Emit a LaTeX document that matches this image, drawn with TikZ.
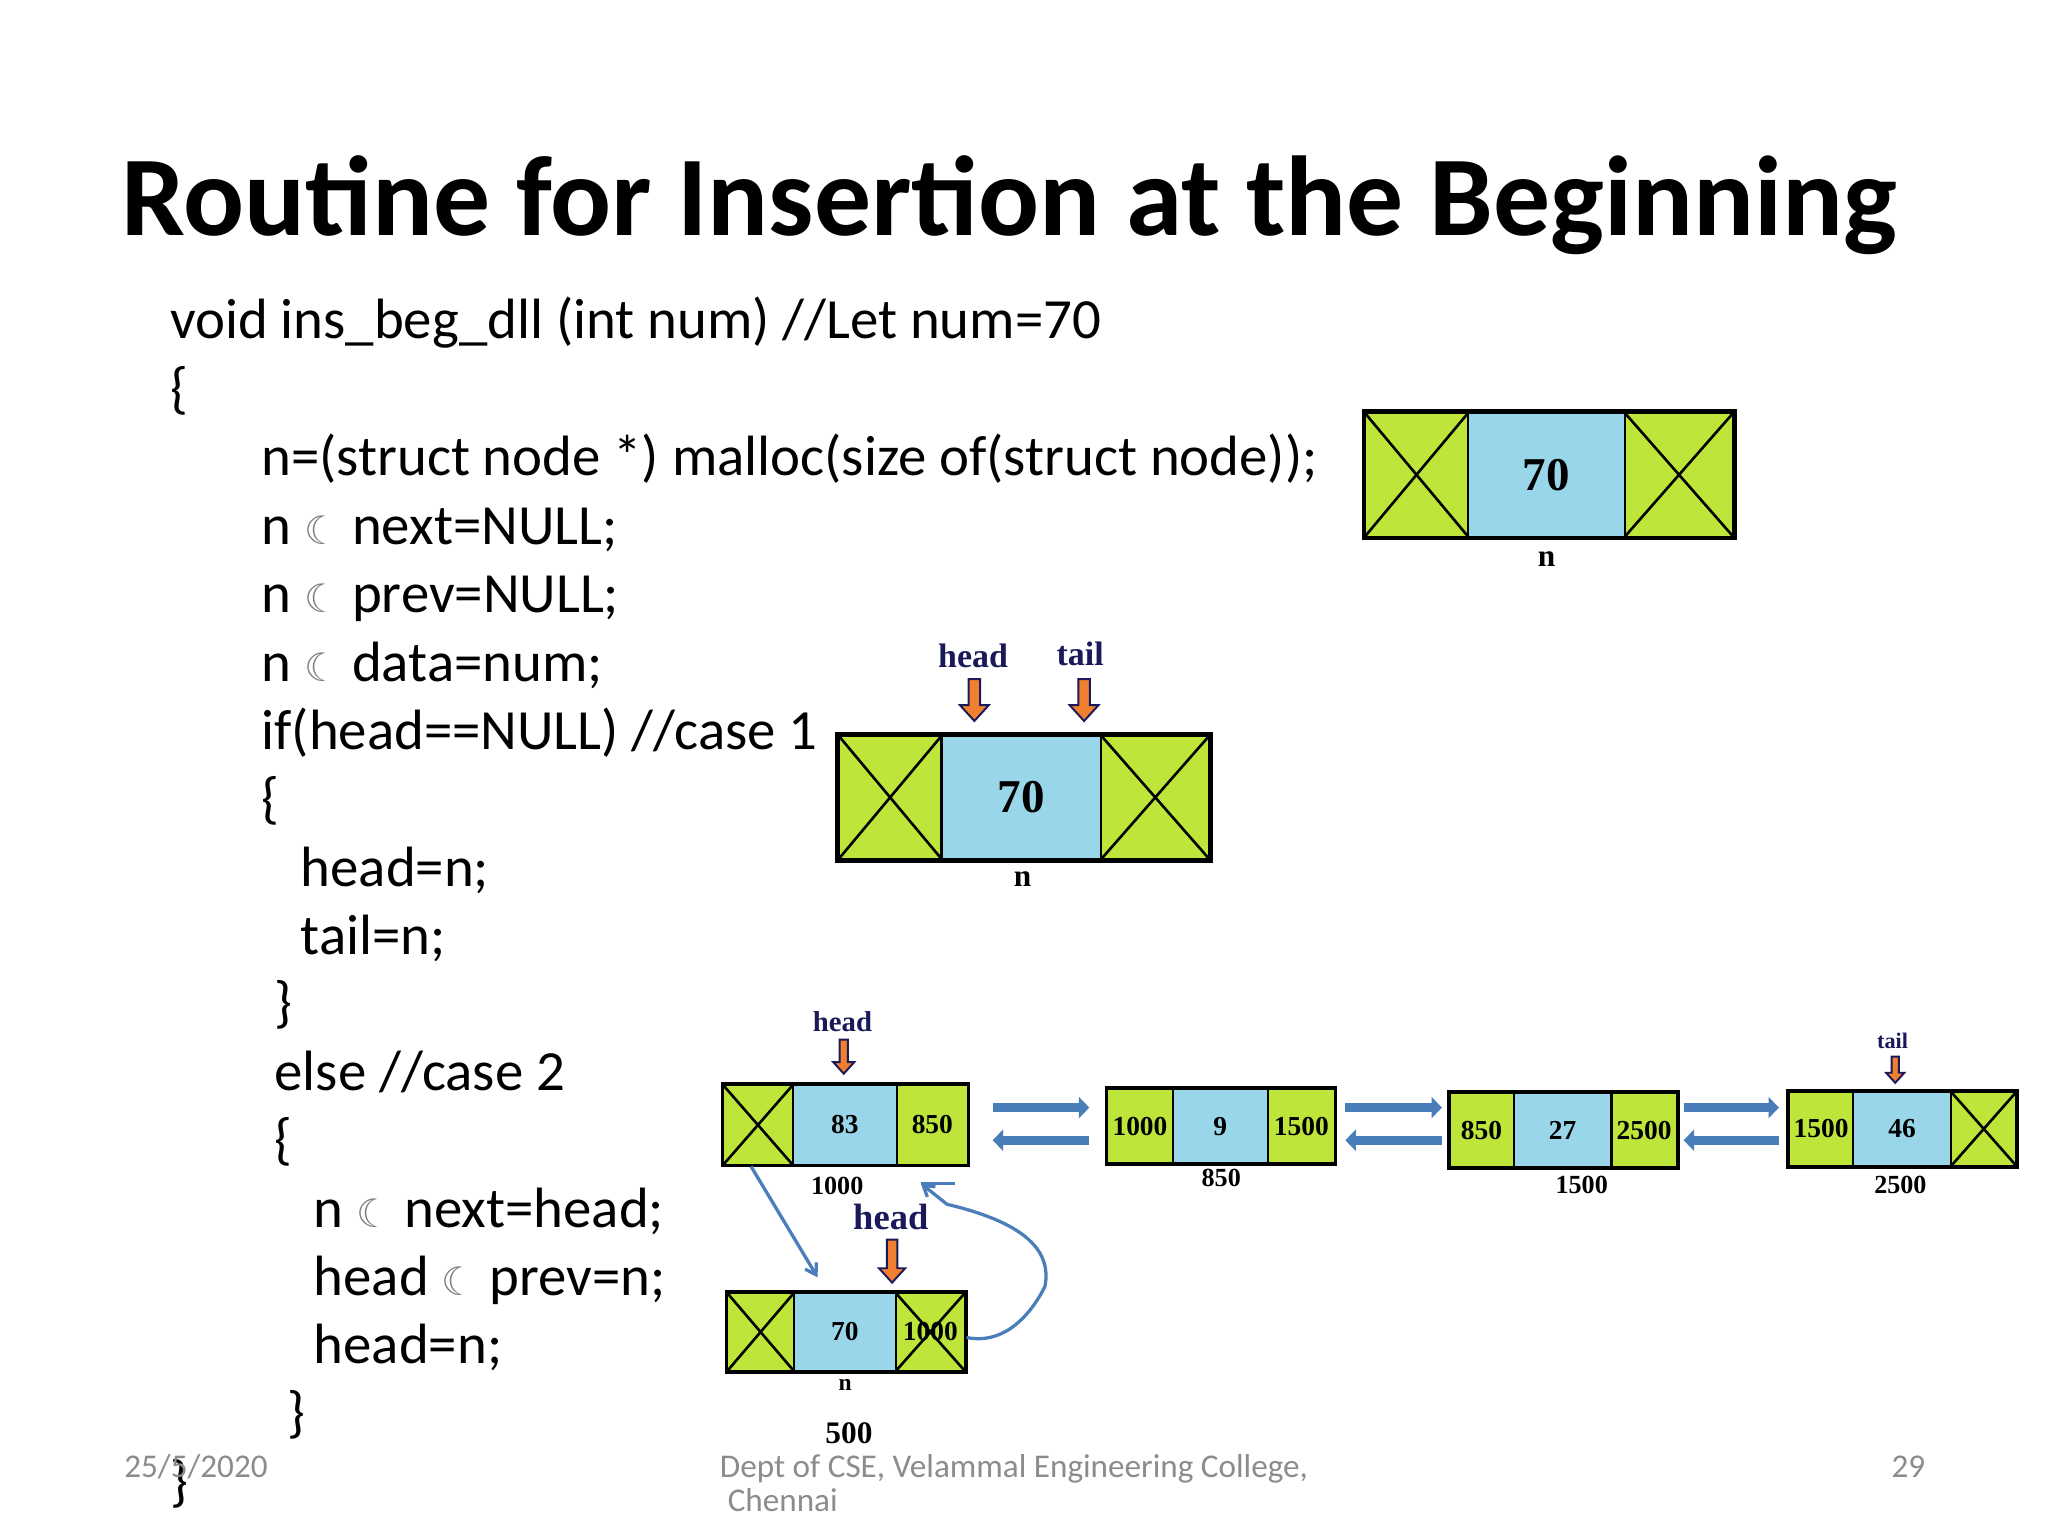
\documentclass[tikz,border=0pt]{standalone}
\usepackage{fontspec}
\setmainfont{Carlito}
\newfontfamily\tms{Liberation Serif}
\newfontfamily\djv{DejaVu Sans}
\usetikzlibrary{arrows.meta}
\definecolor{cg}{HTML}{BDE53A}
\definecolor{cb}{HTML}{9AD6EA}
\definecolor{ab}{HTML}{4A7EBB}
\definecolor{nv}{HTML}{1A1A5A}
\definecolor{og}{HTML}{F08030}
\definecolor{ft}{HTML}{8C8C8C}
\tikzset{
 code/.style={anchor=base west,inner sep=0,font=\fontsize{43.5}{48}\selectfont},
 bigc/.style={draw=black,line width=2pt,inner sep=0,anchor=north west,font=\tms\bfseries\fontsize{36}{40}\selectfont},
 smc/.style={draw=black,line width=1.6pt,inner sep=0,anchor=north west,font=\tms\bfseries\fontsize{21}{24}\selectfont},
 lbl/.style={inner sep=0,font=\tms\bfseries\fontsize{24}{26}\selectfont},
 hd/.style={inner sep=0,text=nv,font=\tms\bfseries\fontsize{26}{28}\selectfont},
 blk/.style={ab,line width=7pt,-{Triangle[length=8pt,width=16pt]}},
 thin/.style={ab,line width=2.5pt},
 foot/.style={inner sep=0,anchor=base west,text=ft,font=\fontsize{25.4}{28}\selectfont},
}
\newcommand{\dnarr}[4]{% x, ytop, ybot, halfwidth
 \filldraw[fill=og,draw=nv,line width=1.5pt] (#1-#4*0.4,#2)--(#1+#4*0.4,#2)--(#1+#4*0.4,#3-#4*1.1)--(#1+#4,#3-#4*1.1)--(#1,#3)--(#1-#4,#3-#4*1.1)--(#1-#4*0.4,#3-#4*1.1)--cycle;}
\newcommand{\xcross}[1]{\draw[line width=2pt] (#1.north west)--(#1.south east) (#1.north east)--(#1.south west);}
\newcommand{\sym}{{\djv\color{gray}\fontsize{30}{30}\selectfont ☾}}
\begin{document}
\begin{tikzpicture}[x=1pt,y=-1pt]
\useasboundingbox[fill=white] (0,0) rectangle (1568,1176);
\node[anchor=base west,inner sep=0,font=\bfseries\fontsize{87}{96}\selectfont] (title) at (93,180) {Routine for Insertion at the Beginning};
\node[code] (c1) at (130,259) {void ins\_beg\_dll (int num) //Let num=70};
\node[code] (c2) at (130,312) {\{};
\node[code] (c3) at (200,364) {n=(struct node *) malloc(size of(struct node));};
\node[code] (c4) at (200,417) {n \sym\ next=NULL;};
\node[code] (c5) at (200,469) {n \sym\ prev=NULL;};
\node[code] (c6) at (200,522) {n \sym\ data=num;};
\node[code] (c7) at (200,574) {if(head==NULL) //case 1};
\node[code] (c8) at (200,626) {\{};
\node[code] (c9) at (230,679) {head=n;};
\node[code] (c10) at (230,731) {tail=n;};
\node[code] (c11) at (210,782) {\}};
\node[code] (c12) at (210,835) {else //case 2};
\node[code] (c13) at (210,887) {\{};
\node[code] (c14) at (240,940) {n \sym\ next=head;};
\node[code] (c15) at (240,992) {head \sym\ prev=n;};
\node[code] (c16) at (240,1044) {head=n;};
\node[code] (c17) at (220,1096) {\}};
\node[code] (c18) at (130,1149) {\}};
\node[foot] (f1) at (95,1131) {25/5/2020};
\node[foot] (f2) at (551,1131) {Dept of CSE, Velammal Engineering College,};
\node[foot] (f3) at (557,1157) {Chennai};
\node[foot] (f4) at (1448,1131) {29};
% diagram 1
\node[bigc,fill=cg,minimum width=79,minimum height=95] (a1) at (1044,315) {};
\node[bigc,fill=cb,minimum width=120,minimum height=95] (a2) at (1123,315) {70};
\node[bigc,fill=cg,minimum width=83,minimum height=95] (a3) at (1243,315) {};
\xcross{a1}\xcross{a3}
\draw[line width=3pt] (a1.north west) rectangle (a3.south east);
\node[lbl] (an) at (1184,428) {n};
% diagram 2
\node[bigc,fill=cg,minimum width=79,minimum height=95] (b1) at (641,562) {};
\node[bigc,fill=cb,minimum width=122,minimum height=95] (b2) at (720,562) {70};
\node[bigc,fill=cg,minimum width=83,minimum height=95] (b3) at (842,562) {};
\xcross{b1}\xcross{b3}
\draw[line width=3pt] (b1.north west) rectangle (b3.south east);
\node[lbl] (bn) at (783,673) {n};
\node[hd] (bh) at (745,502) {head};
\node[hd] (bt) at (827,501) {tail};
\dnarr{746}{520}{552}{11}
\dnarr{830}{520}{552}{11}
% lower list
\node[smc,fill=cg,minimum width=53,minimum height=61] (p1) at (553,830) {};
\node[smc,fill=cb,minimum width=80,minimum height=61] (p2) at (606,830) {83};
\node[smc,fill=cg,minimum width=54,minimum height=61] (p3) at (686,830) {850};
\xcross{p1}
\draw[line width=2.5pt] (p1.north west) rectangle (p3.south east);
\node[lbl,font=\tms\bfseries\fontsize{20}{22}\selectfont] (pa) at (641,908) {1000};
\node[hd,font=\tms\bfseries\fontsize{22}{24}\selectfont] (ph) at (645,782) {head};
\dnarr{646}{796}{822}{8}

\node[smc,fill=cg,minimum width=50,minimum height=57] (q1) at (847,833) {1000};
\node[smc,fill=cb,minimum width=73,minimum height=57] (q2) at (897,833) {9};
\node[smc,fill=cg,minimum width=51,minimum height=57] (q3) at (970,833) {1500};
\draw[line width=2.5pt] (q1.north west) rectangle (q3.south east);
\node[lbl,font=\tms\bfseries\fontsize{20}{22}\selectfont] (qa) at (935,902) {850};

\node[smc,fill=cg,minimum width=49,minimum height=57] (r1) at (1109,836) {850};
\node[smc,fill=cb,minimum width=75,minimum height=57] (r2) at (1158,836) {27};
\node[smc,fill=cg,minimum width=50,minimum height=57] (r3) at (1233,836) {2500};
\draw[line width=2.5pt] (r1.north west) rectangle (r3.south east);
\node[lbl,font=\tms\bfseries\fontsize{20}{22}\selectfont] (ra) at (1211,907) {1500};

\node[smc,fill=cg,minimum width=49,minimum height=57] (s1) at (1369,835) {1500};
\node[smc,fill=cb,minimum width=75,minimum height=57] (s2) at (1418,835) {46};
\node[smc,fill=cg,minimum width=50,minimum height=57] (s3) at (1493,835) {};
\xcross{s3}
\draw[line width=2.5pt] (s1.north west) rectangle (s3.south east);
\node[lbl,font=\tms\bfseries\fontsize{20}{22}\selectfont] (sa) at (1455,907) {2500};
\node[hd,font=\tms\bfseries\fontsize{17}{19}\selectfont] (st) at (1449,797) {tail};
\dnarr{1451}{809}{829}{7}

\node[smc,fill=cg,minimum width=51,minimum height=60] (e1) at (556,989) {};
\node[smc,fill=cb,minimum width=78,minimum height=60] (e2) at (607,989) {70};
\node[smc,fill=cg,minimum width=53,minimum height=60] (e3) at (685,989) {1000};
\xcross{e1}\xcross{e3}
\draw[line width=2.5pt] (e1.north west) rectangle (e3.south east);
\node[lbl,font=\tms\bfseries\fontsize{18}{20}\selectfont] (en) at (647,1060) {n};
\node[lbl] (e5) at (650,1097) {500};
\node[hd,font=\tms\bfseries\fontsize{28}{30}\selectfont] (eh) at (682,932) {head};
\dnarr{683}{949}{982}{10}

% block arrows
\coordinate (k1) at (760,848); \coordinate (k2) at (834,848);
\coordinate (k3) at (834,873); \coordinate (k4) at (760,873);
\draw[blk] (k1)--(k2); \draw[blk] (k3)--(k4);
\coordinate (k5) at (1030,848); \coordinate (k6) at (1104,848);
\coordinate (k7) at (1104,873); \coordinate (k8) at (1030,873);
\draw[blk] (k5)--(k6); \draw[blk] (k7)--(k8);
\coordinate (k9) at (1289,848); \coordinate (k10) at (1362,848);
\coordinate (k11) at (1362,873); \coordinate (k12) at (1289,873);
\draw[blk] (k9)--(k10); \draw[blk] (k11)--(k12);

% thin links
\coordinate (t1) at (575,893); \coordinate (t2) at (626,978);
\draw[thin,-{Straight Barb[length=8pt,width=10pt]}] (t1)--(t2);
\coordinate (u1) at (740,1024); \coordinate (u2) at (725,922); \coordinate (u3) at (705,906);
\draw[thin,-{Straight Barb[length=8pt,width=10pt]}] (u1) .. controls (770,1030) and (790,1005) .. (800,985) .. controls (806,955) and (780,935) .. (u2) -- (u3);
\coordinate (u4) at (731,906);
\draw[thin] (u3)--(u4);
\end{tikzpicture}
\end{document}
